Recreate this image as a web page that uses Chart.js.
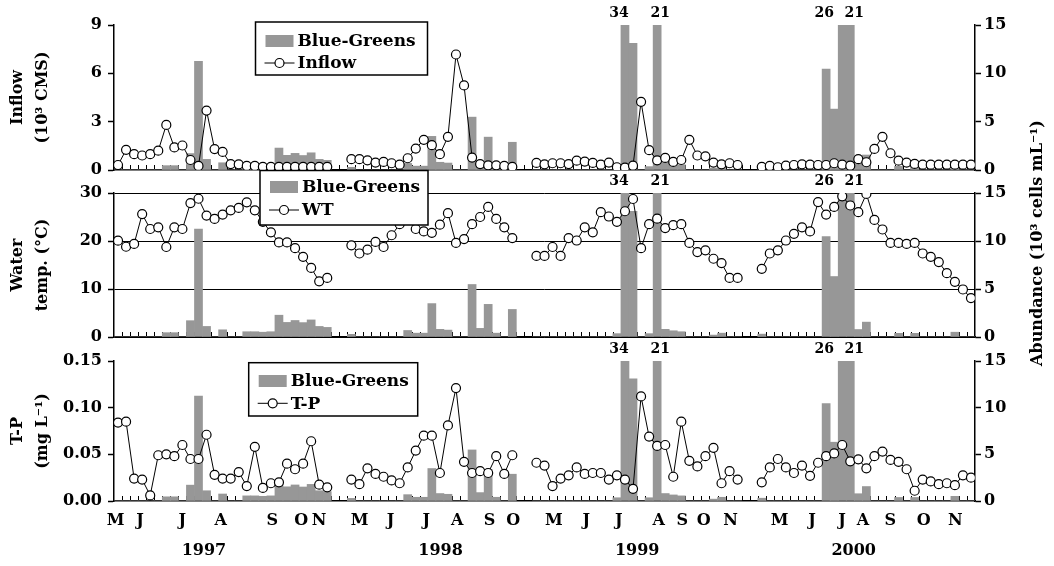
<!DOCTYPE html>
<html>
<head>
<meta charset="utf-8">
<script src="https://cdn.jsdelivr.net/npm/chart.js@4.4.1/dist/chart.umd.min.js"></script>
<style>
html,body{margin:0;padding:0;background:#fff;}
#wrap{position:relative;width:1054px;height:566px;background:#fff;}
#wrap canvas{position:absolute;left:0;top:0;}
</style>
</head>
<body>
<div id="wrap">
<canvas id="cInflow" width="1054" height="566"></canvas>
<canvas id="cWT" width="1054" height="566"></canvas>
<canvas id="cTP" width="1054" height="566"></canvas>
</div>
<script>
// ---------- DATA (one slot per sampling date; null = no sampling between years) ----------
// Blue-Greens abundance (10^3 cells/mL), same series in all three panels
const blueGreens = [
  0,0,0,0,0,0,0.45,0.45,0,1.7,11.25,1.1,0,0.75,0,0,0.55,0.55,0.5,0.55,2.27,1.52,1.72,1.5,1.78,1.1,1.0,
  null,null,
  0.28,0,0,0,0,0,0,0.68,0.4,0.4,3.48,0.8,0.72,0,0,5.47,0.9,3.4,0.4,0,2.87,
  null,null,
  0,0,0,0,0,0,0,0,0,0,0.35,34,13.1,0,0.35,21,0.8,0.65,0.55,0,0,0,0.2,0.4,0,0,
  null,null,
  0.3,0,0,0,0,0,0,0,10.45,6.3,26,21,0.78,1.55,0,0,0,0.38,0,0.38,0,0,0,0,0.5,0,0
];
// Inflow (10^3 CMS)
const inflow = [
  0.31,1.25,0.98,0.9,0.98,1.2,2.8,1.4,1.52,0.62,0.25,3.69,1.3,1.12,0.37,0.35,0.25,0.25,0.2,0.2,0.2,0.2,0.2,0.2,0.2,0.2,0.2,
  null,null,
  0.67,0.67,0.6,0.46,0.5,0.42,0.33,0.73,1.33,1.87,1.54,0.98,2.06,7.17,5.25,0.77,0.37,0.29,0.29,0.25,0.2,
  null,null,
  0.44,0.35,0.42,0.42,0.37,0.58,0.52,0.44,0.33,0.46,0.17,0.15,0.27,4.23,1.23,0.6,0.75,0.5,0.62,1.87,0.9,0.85,0.46,0.35,0.42,0.31,
  null,null,
  0.2,0.25,0.17,0.27,0.31,0.35,0.33,0.31,0.31,0.42,0.33,0.27,0.67,0.48,1.31,2.06,1.04,0.58,0.46,0.38,0.33,0.33,0.33,0.33,0.33,0.33,0.33
];
// Water temperature (deg C)
const waterTemp = [
  20.07,18.8,19.4,25.6,22.5,22.85,18.75,22.85,22.5,27.9,28.8,25.3,24.6,25.5,26.4,26.9,28.05,26.4,24.0,21.8,19.7,19.7,18.5,16.7,14.4,11.6,12.3,
  null,null,
  19.1,17.4,18.2,19.8,18.75,21.2,23.5,24.5,22.5,22.0,21.7,23.4,25.8,19.6,20.4,23.5,25.0,27.1,24.6,22.85,20.6,
  null,null,
  16.9,16.9,18.75,16.9,20.6,20.1,22.85,21.8,26.0,25.1,24.0,26.2,28.75,18.5,23.5,24.65,22.7,23.3,23.5,19.6,17.7,18.05,16.3,15.4,12.3,12.3,
  null,null,
  14.2,17.4,18.05,20.1,21.5,22.85,22.0,28.1,25.5,27.1,29.3,27.4,26.0,29.8,24.4,22.4,19.6,19.6,19.4,19.6,17.4,16.7,15.6,13.3,11.5,9.9,8.1
];
// Total phosphorus (mg/L)
const totalP = [
  0.084,0.085,0.024,0.023,0.006,0.049,0.05,0.048,0.06,0.045,0.045,0.071,0.028,0.024,0.024,0.031,0.016,0.058,0.014,0.019,0.02,0.04,0.034,0.04,0.064,0.0175,0.0146,
  null,null,
  0.023,0.018,0.035,0.029,0.026,0.022,0.019,0.036,0.054,0.070,0.070,0.030,0.081,0.121,0.042,0.030,0.032,0.030,0.048,0.029,0.049,
  null,null,
  0.041,0.038,0.016,0.024,0.0275,0.036,0.029,0.030,0.030,0.023,0.0275,0.023,0.013,0.112,0.069,0.059,0.060,0.026,0.085,0.043,0.037,0.048,0.057,0.019,0.032,0.023,
  null,null,
  0.020,0.036,0.045,0.036,0.030,0.038,0.027,0.041,0.048,0.051,0.060,0.0425,0.0446,0.035,0.048,0.053,0.044,0.042,0.034,0.011,0.023,0.021,0.018,0.019,0.017,0.0275,0.025
];
// Month tick labels and their place on the slot axis
const monthLabels = ['M','J','J','A','S','O','N', 'M','J','J','A','S','O', 'M','J','J','A','S','O','N', 'M','J','J','A','S','O','N'];
const monthPos = [-0.29,2.73,8.0,12.75,19.18,22.78,24.97, 30.02,33.87,38.31,42.16,46.17,49.11, 54.16,58.18,62.23,67.2,70.11,72.79,76.11, 82.23,86.26,89.98,92.59,95.98,100.12,104.06];
const yearLabels = ['1997','1998','1999','2000'];
const yearPos = [10.68,40.08,64.52,91.43];

// ---------- STYLE ----------
const FONT = "'DejaVu Serif', serif";
const BAR = '#979797';
const nSlots = blueGreens.length;
const slotIndex = blueGreens.map((_, i) => i);
const tickFont = {family: FONT, size: 16, weight: 'bold'};

const decor = {
  id: 'decor',
  beforeDatasetsDraw(chart) {
    const {ctx, chartArea} = chart;
    const xs = chart.scales.x;
    ctx.save();
    ctx.strokeStyle = '#000';
    ctx.lineWidth = 1;
    ctx.beginPath();
    for (let i = 1; i < nSlots; i++) {
      const px = Math.round(xs.getPixelForValue(i - 0.5)) + 0.5;
      ctx.moveTo(px, chartArea.bottom);
      ctx.lineTo(px, chartArea.bottom - 5);
    }
    ctx.stroke();
    ctx.restore();
  },
  afterDatasetsDraw(chart, args, opts) {
    const {ctx, chartArea} = chart;
    const xs = chart.scales.x, yr = chart.scales.yR;
    ctx.save();
    // labels for bars running off the top of the scale
    ctx.fillStyle = '#000';
    ctx.font = 'bold 14px ' + FONT;
    ctx.textAlign = 'center';
    ctx.textBaseline = 'middle';
    let k = 0;
    blueGreens.forEach((v, i) => {
      if (v !== null && v > yr.max) {
        const dx = (opts.labelShift && opts.labelShift[k]) || 0;
        ctx.fillText(String(v), xs.getPixelForValue(i) + dx, chartArea.top - 12);
        k++;
      }
    });
    // boxed legend
    const L = opts.legend;
    if (L) {
      const ds = chart.data.datasets;
      const barDs = ds.find(d => d.type === 'bar'), lineDs = ds.find(d => d.type === 'line');
      ctx.fillStyle = '#fff';
      ctx.fillRect(L.x, L.y, L.w, L.h);
      ctx.strokeStyle = '#000';
      ctx.lineWidth = 1.5;
      ctx.strokeRect(L.x, L.y, L.w, L.h);
      const r1 = L.y + L.row1, r2 = L.y + L.row2;
      ctx.fillStyle = BAR;
      ctx.fillRect(L.x + 10, r1 - 6, 28, 12);
      ctx.strokeStyle = '#000';
      ctx.lineWidth = 1;
      ctx.beginPath();
      ctx.moveTo(L.x + 9, r2); ctx.lineTo(L.x + 39, r2);
      ctx.stroke();
      ctx.beginPath();
      ctx.arc(L.x + 24, r2, 4.5, 0, Math.PI * 2);
      ctx.fillStyle = '#fff'; ctx.fill();
      ctx.lineWidth = 1.2; ctx.stroke();
      ctx.fillStyle = '#000';
      ctx.font = 'bold 17px ' + FONT;
      ctx.textAlign = 'left';
      ctx.textBaseline = 'middle';
      ctx.fillText(barDs.label, L.x + 42, r1 + 1);
      ctx.fillText(lineDs.label, L.x + 42, r2 + 1);
    }
    // shared right-hand axis title
    if (opts.rightTitle) {
      ctx.translate(opts.rightTitle.x, opts.rightTitle.y);
      ctx.rotate(-Math.PI / 2);
      ctx.font = 'bold 16px ' + FONT;
      ctx.textAlign = 'center';
      ctx.textBaseline = 'middle';
      ctx.fillStyle = '#000';
      ctx.fillText(opts.rightTitle.text, 0, 0);
    }
    ctx.restore();
  }
};

function panel(id, cfg) {
  const xH = cfg.monthTicks ? 30 : 0;
  const yearH = cfg.monthTicks ? 35 : 0;
  const xScale = {
    type: 'linear', position: 'bottom', min: -0.5, max: nSlots - 0.5,
    offset: false,
    grid: {display: false, drawTicks: false, offset: false},
    border: {display: true, color: '#000', width: 1.5},
    afterFit: s => { s.height = xH; }
  };
  if (cfg.monthTicks) {
    xScale.ticks = {display: true, autoSkip: false, maxRotation: 0, minRotation: 0, font: tickFont, color: '#000', padding: 10,
      callback: (v, i) => monthLabels[i]};
    xScale.afterBuildTicks = s => { s.ticks = monthPos.map(p => ({value: p})); };
  } else {
    xScale.ticks = {display: false};
  }
  const scales = {
    x: xScale,
    yL: {
      type: 'linear', position: 'left', min: 0, max: cfg.max,
      ticks: {stepSize: cfg.step, font: tickFont, color: '#000', padding: 6, callback: cfg.fmt},
      grid: {drawOnChartArea: !!cfg.grid, color: '#000', lineWidth: 1, drawTicks: true, tickLength: 6, tickWidth: 1.5, tickColor: '#000'},
      border: {display: true, color: '#000', width: 1.5},
      title: {display: true, text: cfg.title, color: '#000', font: {family: FONT, size: 16, weight: 'bold', lineHeight: 25 / 16}, padding: {top: 5.5, bottom: 0}},
      afterFit: s => { s.width = 114; }
    },
    yR: {
      type: 'linear', position: 'right', min: 0, max: 15,
      ticks: {stepSize: 5, font: tickFont, color: '#000', padding: 3},
      grid: {drawOnChartArea: false, color: '#000', drawTicks: true, tickLength: 6, tickWidth: 1.5, tickColor: '#000'},
      border: {display: true, color: '#000', width: 1.5},
      afterFit: s => { s.width = 79; }
    }
  };
  if (cfg.monthTicks) {
    scales.xYear = {
      type: 'linear', position: 'bottom', min: -0.5, max: nSlots - 0.5, offset: false,
      grid: {display: false, drawTicks: false}, border: {display: false},
      ticks: {display: true, autoSkip: false, maxRotation: 0, minRotation: 0, font: tickFont, color: '#000', padding: 10,
        callback: (v, i) => yearLabels[i]},
      afterBuildTicks: s => { s.ticks = yearPos.map(p => ({value: p})); },
      afterFit: s => { s.height = yearH; }
    };
  }
  return new Chart(document.getElementById(id), {
    type: 'bar',
    data: {
      labels: slotIndex,
      datasets: [
        {type: 'line', label: cfg.lineLabel, data: cfg.line, yAxisID: 'yL', xAxisID: 'x', order: 0,
         borderColor: '#000', borderWidth: 1, tension: 0, spanGaps: false,
         pointRadius: 4.5, pointHoverRadius: 4.5, pointBackgroundColor: '#fff', pointBorderColor: '#000', pointBorderWidth: 1.2},
        {type: 'bar', label: 'Blue-Greens', data: blueGreens, yAxisID: 'yR', xAxisID: 'x', order: 1,
         backgroundColor: BAR, borderWidth: 0, barPercentage: 1, categoryPercentage: 1, clip: 0}
      ]
    },
    options: {
      responsive: false, animation: false, devicePixelRatio: 1,
      layout: {padding: {left: 0, right: 0, top: cfg.top, bottom: Math.max(0, 566 - cfg.bottom - xH - yearH)}},
      plugins: {
        legend: {display: false}, tooltip: {enabled: false},
        decor: {legend: cfg.legend, labelShift: [-6, 3, -18, 4], rightTitle: cfg.rightTitle}
      },
      events: [],
      scales
    },
    plugins: [decor]
  });
}

panel('cInflow', {
  top: 25, bottom: 170, max: 9, step: 3, line: inflow, lineLabel: 'Inflow',
  title: ['Inflow', '(10³ CMS)'],
  legend: {x: 255.5, y: 22, w: 172, h: 53, row1: 19, row2: 41}
});
panel('cWT', {
  top: 193, bottom: 337, max: 30, step: 10, line: waterTemp, lineLabel: 'WT', grid: true,
  title: ['Water', 'temp. (°C)'],
  legend: {x: 260, y: 170.5, w: 168, h: 54.5, row1: 16.5, row2: 39.5},
  rightTitle: {x: 1038, y: 243, text: 'Abundance (10³ cells mL⁻¹)'}
});
panel('cTP', {
  top: 361, bottom: 501, max: 0.15, step: 0.05, line: totalP, lineLabel: 'T-P',
  fmt: v => v.toFixed(2), monthTicks: true,
  title: ['T-P', '(mg L⁻¹)'],
  legend: {x: 248.7, y: 362.7, w: 169, h: 53.3, row1: 18.3, row2: 40.6}
});
</script>
</body>
</html>
